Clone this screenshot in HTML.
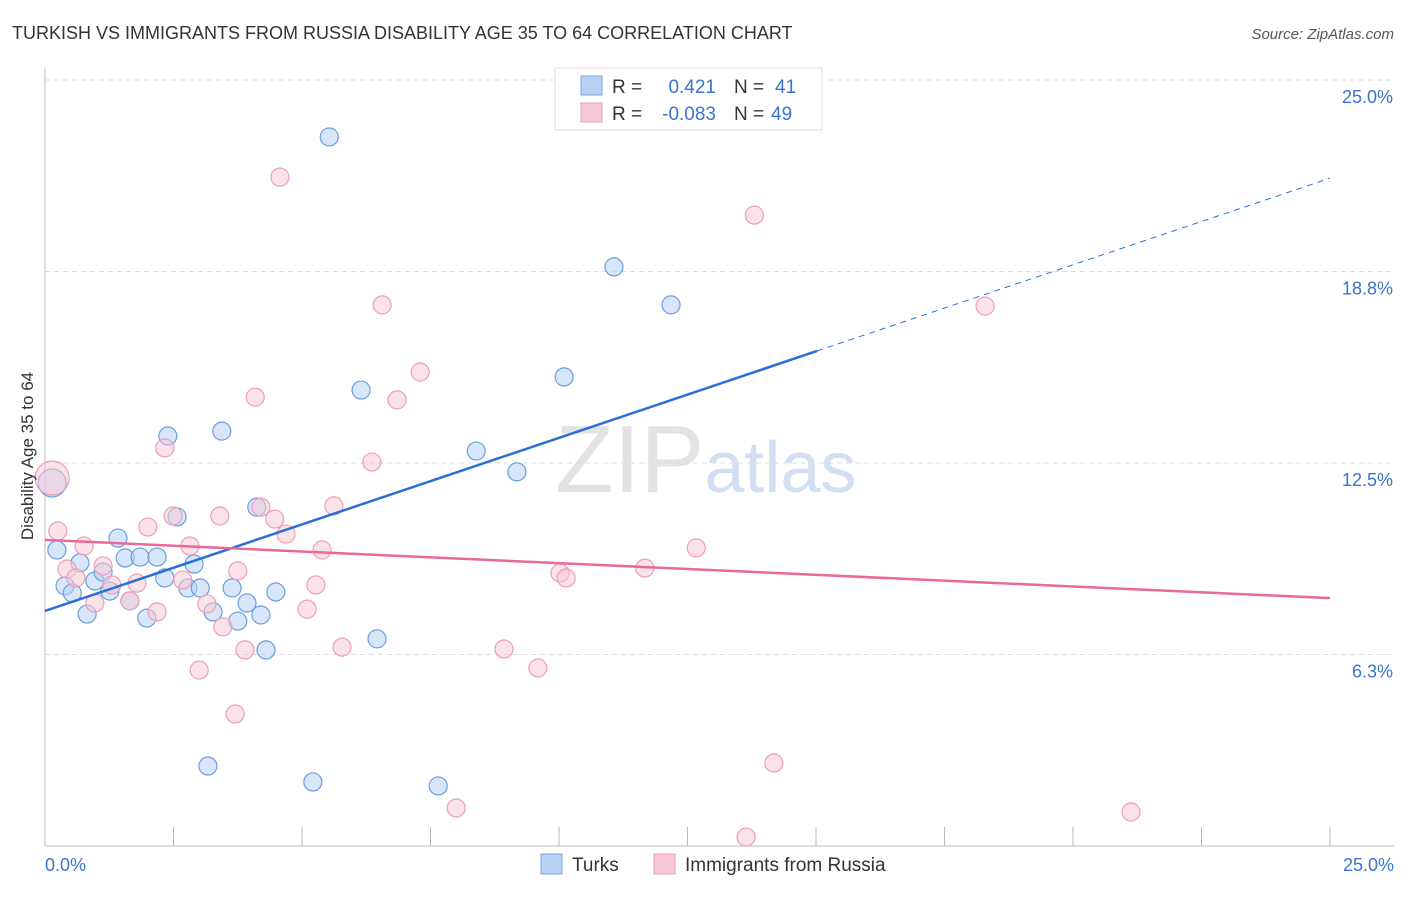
<!DOCTYPE html>
<html><head><meta charset="utf-8"><style>
body{margin:0;background:#fff;font-family:"Liberation Sans",sans-serif;}
svg text{font-family:"Liberation Sans",sans-serif;}
</style></head><body>
<svg id="chart" width="1406" height="892" xmlns="http://www.w3.org/2000/svg">
<text x="12" y="39" font-size="18" fill="#333">TURKISH VS IMMIGRANTS FROM RUSSIA DISABILITY AGE 35 TO 64 CORRELATION CHART</text>
<text x="1394" y="39" font-size="15" fill="#555" font-style="italic" text-anchor="end">Source: ZipAtlas.com</text>
<text x="555" y="492" font-size="96" fill="#ddd" font-family="Liberation Serif" opacity="0.8">ZIP<tspan fill="#c8d8f0" font-family="Liberation Sans" font-size="72">atlas</tspan></text>
<g id="grid"></g>
<g id="axes"></g>
<g id="pts"></g>
<g id="trends"></g>
<text transform="translate(33,456) rotate(-90)" font-size="17" fill="#333" text-anchor="middle">Disability Age 35 to 64</text>
<g>
<rect x="555" y="68" width="267" height="62" fill="#fff" stroke="#ddd"/>
<rect x="581" y="76" width="21" height="19" fill="#b8d2f4" stroke="#7aa6e0"/>
<rect x="581" y="103" width="21" height="19" fill="#f8c8d6" stroke="#eba0b8"/>
<text x="612" y="93" font-size="19" fill="#333">R =</text>
<text x="716" y="93" font-size="19" fill="#3a74d0" text-anchor="end">0.421</text>
<text x="734" y="93" font-size="19" fill="#333">N =</text>
<text x="775" y="93" font-size="19" fill="#3a74d0">41</text>
<text x="612" y="120" font-size="19" fill="#333">R =</text>
<text x="716" y="120" font-size="19" fill="#3a74d0" text-anchor="end">-0.083</text>
<text x="734" y="120" font-size="19" fill="#333">N =</text>
<text x="771" y="120" font-size="19" fill="#3a74d0">49</text>
</g>
<g>
<rect x="541" y="854" width="21" height="20" fill="#b8d2f4" stroke="#7aa6e0"/>
<text x="572" y="871" font-size="19" fill="#333">Turks</text>
<rect x="654" y="854" width="21" height="20" fill="#f8c8d6" stroke="#eba0b8"/>
<text x="685" y="871" font-size="19" fill="#333">Immigrants from Russia</text>
</g>
</svg>
<script>
const yTicks=[6.25,12.5,18.75,25];
const yTickLabels=["6.3%","12.5%","18.8%","25.0%"];
const xTickLabels=["0.0%","25.0%"];
const turksX=[0.14,0.23,0.39,0.53,0.68,0.82,0.97,1.13,1.26,1.42,1.56,1.65,1.85,1.98,2.18,2.33,2.39,2.57,2.78,2.90,3.02,3.27,3.44,3.64,3.75,3.93,4.12,4.20,4.30,4.49,3.17,5.21,6.15,6.46,7.65,8.39,9.18,10.10,11.07,12.18,5.53];
const turksY=[11.85,9.66,8.49,8.26,9.24,7.57,8.65,8.94,8.32,10.05,9.40,8.00,9.43,7.44,9.43,8.75,13.38,10.74,8.42,9.20,8.42,7.64,13.54,8.42,7.34,7.93,11.06,7.54,6.40,8.29,2.61,2.09,14.88,6.76,1.96,12.89,12.21,15.31,18.90,17.66,23.14];
const russiaX=[0.14,0.25,0.43,0.60,0.76,0.97,1.13,1.30,1.65,1.79,2.00,2.18,2.33,2.49,2.68,2.82,3.00,3.15,3.40,3.46,3.70,3.89,4.09,4.20,4.47,4.57,4.69,5.10,5.27,5.39,5.62,5.78,6.36,6.56,6.85,7.30,8.00,8.93,9.59,10.02,10.14,11.67,12.67,13.64,13.80,14.18,18.29,21.13,3.75];
const russiaY=[12.01,10.28,9.04,8.75,9.79,7.93,9.14,8.52,8.00,8.58,10.41,7.64,12.99,10.77,8.68,9.79,5.74,7.90,10.77,7.15,4.31,6.40,14.65,11.06,10.67,21.83,10.18,7.73,8.52,9.66,11.10,6.49,12.53,17.66,14.56,15.47,1.24,6.43,5.81,8.91,8.75,9.07,9.73,0.29,20.59,2.71,17.62,1.11,8.98];
const turksTrend=[7.67,0.565];
const russiaTrend=[9.99,-0.076];
const NS="http://www.w3.org/2000/svg";
const X=v=>45+v/25*1285, Y=v=>846-v/25*766;
function mk(tag,parent,attrs){const e=document.createElementNS(NS,tag);for(const k in attrs)e.setAttribute(k,attrs[k]);parent.appendChild(e);return e;}
const grid=document.getElementById('grid'),axes=document.getElementById('axes');
yTicks.forEach((t,i)=>{
 const l=mk('line',grid,{x1:45,x2:1394,y1:Y(t),y2:Y(t),stroke:'#ddd','stroke-dasharray':'5,4'});
 
 
 const tx=mk('text',axes,{x:1393,y:Y(t)+23,'font-size':18,fill:'#3a74d0','text-anchor':'end'});
 tx.textContent=yTickLabels[i];
 
 
});
mk('line',axes,{x1:45,x2:45,y1:68,y2:846,stroke:'#bbb'});
mk('line',axes,{x1:45,x2:1394,y1:846,y2:846,stroke:'#bbb'});
for(let i=1;i<=10;i++){const x=45+i*128.5;mk('line',axes,{x1:x,x2:x,y1:827,y2:846,stroke:'#bbb'});}
[[0,'start',45],[25,'end',1394]].forEach((a,i)=>{
 const tx=mk('text',axes,{x:a[2],y:871,'font-size':18,fill:'#3a74d0','text-anchor':a[1]});
 tx.textContent=xTickLabels[i];
 
 
});
const pts=document.getElementById('pts');
function dots(xs,ys,fill,stroke,name){
 xs.forEach((x,i)=>{
  const big=i===0&&x<0.2;
  const r=big?(name==='russia-point'?17:14):9;
  const c=mk('circle',pts,{cx:X(x),cy:Y(ys[i]),r:r,fill:fill,'fill-opacity':0.55,stroke:stroke,'stroke-width':1.2});
  
  
 });
}
dots(turksX,turksY,'#b8d2f4','#6a9ee0','turks-point');
dots(russiaX,russiaY,'#f8c8d6','#ec9fb8','russia-point');
const tr=document.getElementById('trends');
const tl=x=>turksTrend[0]+turksTrend[1]*x, rl=x=>russiaTrend[0]+russiaTrend[1]*x;
let e=mk('line',tr,{x1:X(0),y1:Y(tl(0)),x2:X(15.02),y2:Y(tl(15.02)),stroke:'#2a6fd6','stroke-width':2.5});


e=mk('line',tr,{x1:X(15.02),y1:Y(tl(15.02)),x2:X(25),y2:Y(tl(25)),stroke:'#2a6fd6','stroke-width':1,'stroke-dasharray':'6,5'});


e=mk('line',tr,{x1:X(0),y1:Y(rl(0)),x2:X(25),y2:Y(rl(25)),stroke:'#e8699a','stroke-width':2.5});


</script>
</body></html>
